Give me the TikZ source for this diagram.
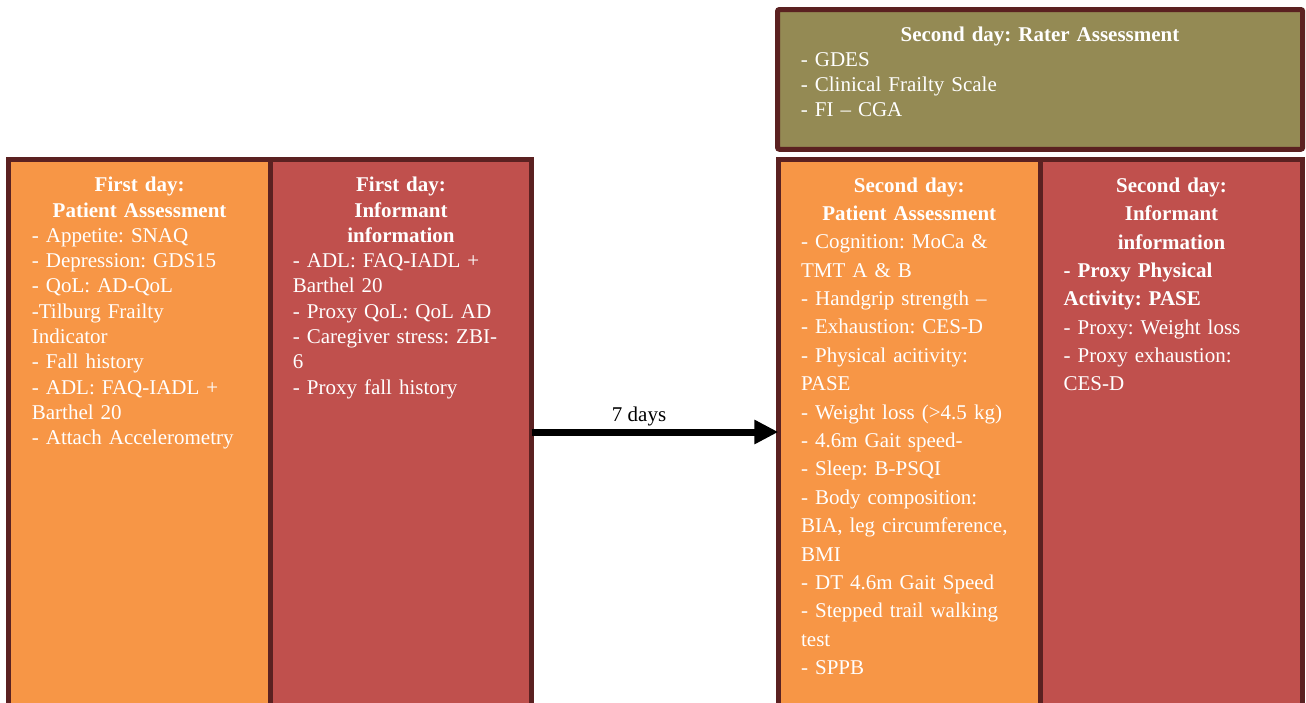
\documentclass[tikz,border=0pt]{standalone}
\usepackage{fontspec}
\setmainfont{Liberation Serif}
\usepackage{tikz}
\usetikzlibrary{arrows.meta}
\usepackage{xcolor}
\definecolor{patorange}{HTML}{F79646}
\definecolor{infred}{HTML}{C0504D}
\definecolor{rateolive}{HTML}{948A54}
\definecolor{cellborder}{HTML}{5B2121}
\frenchspacing

\tikzset{
  cellbox/.style={draw=cellborder, line width=5pt, inner sep=0pt, outer sep=0pt,
    anchor=north west, minimum height=600pt},
  headtext/.style={text=white, font=\fontsize{21}{25.3}\selectfont\bfseries,
    text width=250pt, align=center, anchor=base, inner sep=0pt},
  listtext/.style={text=white, font=\fontsize{21}{25.3}\selectfont,
    text width=235pt, align=left, anchor=base west, inner sep=0pt},
  widehead/.style={font=\fontsize{21}{28.4}\selectfont\bfseries},
  widelist/.style={font=\fontsize{21}{28.4}\selectfont},
  flowarrow/.style={line width=7pt, -{Triangle[length=24pt,width=23pt]}},
}

\begin{document}
\begin{tikzpicture}[x=1pt,y=-1pt]
\useasboundingbox (0,0) rectangle (1306,702);
\clip (0,0) rectangle (1306,702);
%%%CELLS
\node[cellbox, fill=patorange, minimum width=261.7pt] (pat1) at (8.8,159.7) {};
\node[cellbox, fill=infred, minimum width=261pt] (inf1) at (270.5,159.7) {};
\node[cellbox, fill=patorange, minimum width=262pt] (pat2) at (778.3,159.7) {};
\node[cellbox, fill=infred, minimum width=262.5pt] (inf2) at (1040.3,159.7) {};
\node[cellbox, fill=rateolive, rounded corners=2pt, minimum width=525.2pt,
  minimum height=139.8pt] (rater) at (777.5,9.5) {};
%%%FIRST DAY
\node[headtext] (pat1head) at (139.6,191.7) {First day:\\Patient Assessment};
\node[listtext] (pat1list) at (31.7,242.3) {- Appetite: SNAQ\\- Depression: GDS15\\- QoL: AD-QoL\\-Tilburg Frailty\\Indicator\\- Fall history\\- ADL: FAQ-IADL +\\Barthel 20\\- Attach Accelerometry};
\node[headtext] (inf1head) at (401,191.7) {First day:\\Informant\\information};
\node[listtext] (inf1list) at (292.7,267.6) {- ADL: FAQ-IADL +\\Barthel 20\\- Proxy QoL: QoL AD\\- Caregiver stress: ZBI-\\6\\- Proxy fall history};
%%%SECOND DAY
\node[headtext, widehead] (pat2head) at (909.3,192.3) {Second day:\\Patient Assessment};
\node[listtext, widelist] (pat2list) at (800.9,248.7) {- Cognition: MoCa \&\\TMT A \& B\\- Handgrip strength --\\- Exhaustion: CES-D\\- Physical acitivity:\\PASE\\- Weight loss (>4.5 kg)\\- 4.6m Gait speed-\\- Sleep: B-PSQI\\- Body composition:\\BIA, leg circumference,\\BMI\\- DT 4.6m Gait Speed\\- Stepped trail walking\\test\\- SPPB};
\node[headtext, widehead] (inf2head) at (1171.5,192.3) {Second day:\\Informant\\information};
\node[listtext, widelist] (inf2list) at (1063.4,277.2) {{\bfseries - Proxy Physical\\Activity: PASE}\\- Proxy: Weight loss\\- Proxy exhaustion:\\CES-D};
\node[headtext, text width=500pt] (raterhead) at (1040,41.7) {Second day: Rater Assessment};
\node[listtext, text width=480pt] (raterlist) at (800.7,66) {- GDES\\- Clinical Frailty Scale\\- FI -- CGA};
%%%SEVEN DAYS
\coordinate (arrowrow) at (0,432);
\draw[flowarrow] (inf1.east |- arrowrow) -- node[pos=0.436, anchor=base, yshift=10.3pt, font=\fontsize{21}{25}\selectfont] (gap) {7 days} (pat2.west |- arrowrow);
\end{tikzpicture}
\end{document}
